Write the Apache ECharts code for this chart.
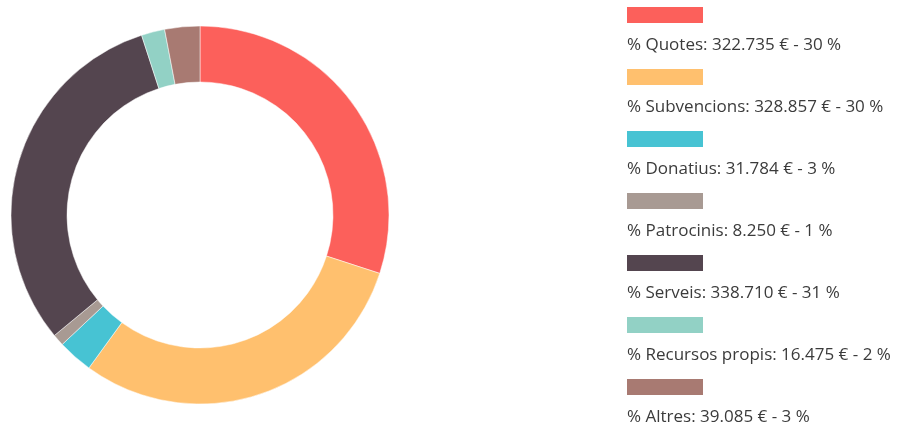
<!DOCTYPE html>
<html><head><meta charset="utf-8">
<script src="https://cdn.jsdelivr.net/npm/echarts@6/dist/echarts.min.js"></script>
<style>html,body{margin:0;padding:0;background:#fff}#c{width:904px;height:429px}</style>
</head><body><div id="c"></div>
<script>
const categories = ['Quotes', 'Subvencions', 'Donatius', 'Patrocinis', 'Serveis', 'Recursos propis', 'Altres'];
const amounts = [322735, 328857, 31784, 8250, 338710, 16475, 39085];
const percents = [30, 30, 3, 1, 31, 2, 3];
const colors = ['#FC605B', '#FFC06E', '#47C3D3', '#A89A93', '#54454F', '#92D1C5', '#A87A72'];

function fmtNum(v) { return String(v).replace(/\B(?=(\d{3})+(?!\d))/g, '.'); }
const names = categories.map(c => '% ' + c);
const labelMap = {};
names.forEach((n, i) => { labelMap[n] = n + ': ' + fmtNum(amounts[i]) + ' € - ' + percents[i] + ' %'; });

const chart = echarts.init(document.getElementById('c'));
chart.setOption({
  animation: false,
  color: colors,
  legend: [{
    orient: 'vertical', left: 627, top: 7, padding: 0,
    itemWidth: 76, itemHeight: 16, itemGap: 46,
    icon: 'rect',
    itemStyle: { borderWidth: 0 },
    formatter: () => '',
    textStyle: { fontSize: 12, lineHeight: 16 },
    selectedMode: false,
    data: names
  }, {
    orient: 'vertical', left: 622, top: 36, padding: 0,
    itemWidth: 0, itemHeight: 0, itemGap: 44,
    itemStyle: { opacity: 0, borderWidth: 0 },
    formatter: n => labelMap[n],
    textStyle: { fontFamily: 'Open Sans', fontSize: 17, letterSpacing: 0.3, color: '#3b3b3b', lineHeight: 18 },
    selectedMode: false,
    data: names
  }],
  series: [{
    type: 'pie',
    center: [200, 215],
    radius: [133, 189],
    startAngle: 90,
    clockwise: true,
    label: { show: false },
    labelLine: { show: false },
    itemStyle: { borderColor: '#fff', borderWidth: 0.5 },
    emphasis: { disabled: true },
    data: names.map((n, i) => ({ name: n, value: percents[i] }))
  }]
});
</script></body></html>
